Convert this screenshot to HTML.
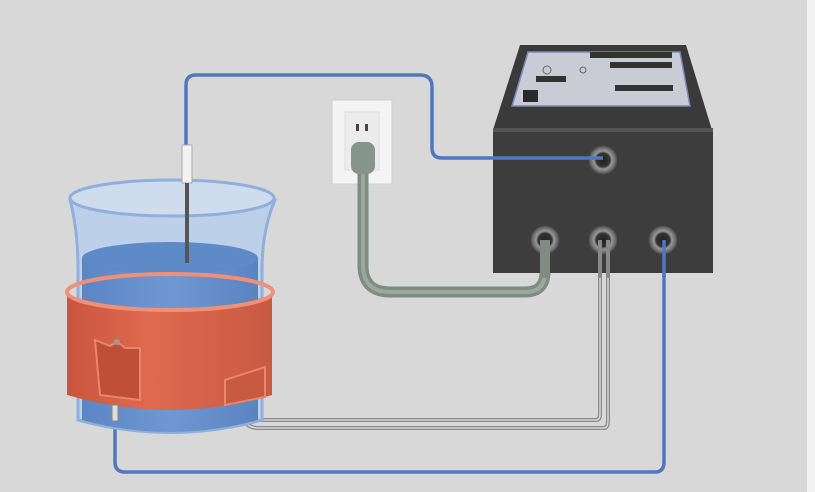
<!DOCTYPE html>
<html><head><meta charset="utf-8"><style>
html,body{margin:0;padding:0;background:#d8d8d8;width:815px;height:492px;overflow:hidden}
</style></head><body>
<svg width="815" height="492" viewBox="0 0 815 492" xmlns="http://www.w3.org/2000/svg">
<defs>
<linearGradient id="band" x1="0" x2="1"><stop offset="0" stop-color="#c9553d"/><stop offset=".4" stop-color="#df6a4f"/><stop offset="1" stop-color="#c85a42"/></linearGradient>
<linearGradient id="liq" x1="0" x2="1"><stop offset="0" stop-color="#5b86c4"/><stop offset=".5" stop-color="#6f98d2"/><stop offset="1" stop-color="#5a84c0"/></linearGradient>
<radialGradient id="port"><stop offset="0" stop-color="#222"/><stop offset=".45" stop-color="#333"/><stop offset=".6" stop-color="#999"/><stop offset=".85" stop-color="#666"/><stop offset="1" stop-color="#3a3a3a"/></radialGradient>
</defs>
<rect width="815" height="492" fill="#d8d8d8"/>
<rect x="807" y="0" width="8" height="492" fill="#f2f2f2"/>

<!-- outlet -->
<rect x="332" y="100" width="60" height="84" fill="#f4f4f4" stroke="#cfcfcf"/>
<rect x="345" y="112" width="34" height="58" fill="#ececec" stroke="#ddd"/>
<rect x="356" y="124" width="3" height="7" fill="#444"/><rect x="365" y="124" width="3" height="7" fill="#444"/>

<!-- grey power cord -->
<path d="M363 170 V265 Q363 292 390 292 H525 Q545 292 545 272 V240" fill="none" stroke="#7e8c84" stroke-width="11"/>
<path d="M363 170 V265 Q363 292 390 292 H525 Q545 292 545 272 V240" fill="none" stroke="#9aa8a0" stroke-width="4"/>
<rect x="351" y="142" width="24" height="32" rx="8" fill="#86958c"/>

<!-- grey twin wires -->
<path d="M232 400 Q232 420 250 420 H596 Q600 420 600 414 V240" fill="none" stroke="#8a8a8a" stroke-width="4"/>
<path d="M240 400 Q240 428 258 428 H604 Q608 428 608 420 V240" fill="none" stroke="#8a8a8a" stroke-width="4"/>
<path d="M232 400 Q232 420 250 420 H596 Q600 420 600 414 V240" fill="none" stroke="#d6d6d6" stroke-width="1.5"/>
<path d="M240 400 Q240 428 258 428 H604 Q608 428 608 420 V240" fill="none" stroke="#d6d6d6" stroke-width="1.5"/>

<!-- blue bottom wire -->
<path d="M115 420 V462 Q115 472 125 472 H655 Q664 472 664 462 V240" fill="none" stroke="#4f78c0" stroke-width="3.5"/>

<!-- controller -->
<polygon points="520,45 686,45 712,130 493,130" fill="#3a3a3a"/>
<polygon points="528,52 680,52 690,106 512,106" fill="#c9ccd4" stroke="#7d86b8" stroke-width="1.5"/>
<rect x="590" y="52" width="82" height="6" fill="#333"/>
<rect x="610" y="62" width="62" height="6" fill="#333"/>
<rect x="615" y="85" width="58" height="6" fill="#333"/>
<rect x="536" y="76" width="30" height="6" fill="#333"/>
<rect x="523" y="90" width="15" height="12" fill="#2a2a2a"/>
<circle cx="547" cy="70" r="4" fill="none" stroke="#666"/>
<circle cx="583" cy="70" r="3" fill="none" stroke="#666"/>
<rect x="493" y="130" width="220" height="143" fill="#3d3d3d"/>
<rect x="493" y="128" width="220" height="4" fill="#555"/>
<circle cx="603" cy="160" r="15" fill="url(#port)"/>
<circle cx="545" cy="240" r="15" fill="url(#port)"/>
<circle cx="603" cy="240" r="15" fill="url(#port)"/>
<circle cx="663" cy="240" r="15" fill="url(#port)"/>
<path d="M545 240 V278" stroke="#7e8c84" stroke-width="10"/>
<path d="M600 240 V278 M608 240 V278" stroke="#8a8a8a" stroke-width="4"/>
<path d="M664 240 V278" stroke="#4f78c0" stroke-width="3.5"/>

<!-- blue probe cable (on top) -->
<path d="M186 148 V85 Q186 75 196 75 H420 Q432 75 432 87 V148 Q432 158 442 158 H603" fill="none" stroke="#4f78c0" stroke-width="3.5"/>

<!-- beaker -->
<path d="M70 200 Q78 230 78 270 V420 Q170 445 262 420 V270 Q262 230 275 200 Z" fill="#bcd0ea" stroke="#8fb0dc" stroke-width="3"/>
<ellipse cx="172" cy="198" rx="102" ry="18" fill="#cfdcee" stroke="#8fb0dc" stroke-width="3"/>
<path d="M82 258 V420 Q170 444 258 420 V258 Z" fill="url(#liq)"/>
<ellipse cx="170" cy="258" rx="88" ry="16" fill="#5e8ac8"/>
<!-- probe -->
<rect x="182" y="145" width="10" height="38" fill="#f2f2f2" stroke="#aaa"/>
<rect x="185" y="183" width="4" height="80" fill="#555"/>
<!-- band -->
<path d="M67 295 V395 Q170 425 272 395 V295 Q170 325 67 295 Z" fill="url(#band)"/>
<ellipse cx="170" cy="292" rx="103" ry="18" fill="none" stroke="#ef9078" stroke-width="4"/>
<path d="M95 340 L100 395 L140 400 L140 348 L125 348 Q118 340 110 346 Z" fill="#c04f38" stroke="#e9856c" stroke-width="2"/>
<path d="M225 380 L265 367 V397 L225 405 Z" fill="#c85a42" stroke="#e9856c" stroke-width="2"/>
<circle cx="117" cy="342" r="3" fill="#999"/>
<rect x="112" y="405" width="6" height="16" fill="#ddd" stroke="#888"/>
</svg>
</body></html>
